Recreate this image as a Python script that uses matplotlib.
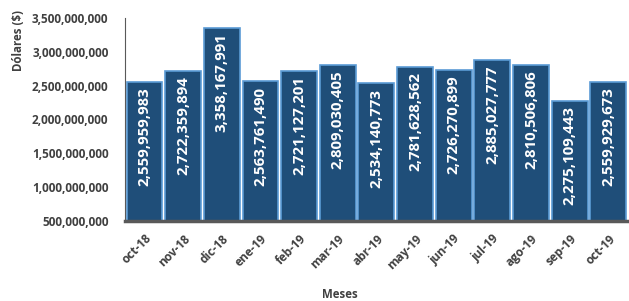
import matplotlib.pyplot as plt
from matplotlib.ticker import FuncFormatter

months = ['oct-18', 'nov-18', 'dic-18', 'ene-19', 'feb-19', 'mar-19', 'abr-19',
          'may-19', 'jun-19', 'jul-19', 'ago-19', 'sep-19', 'oct-19']
amounts = [2559959983, 2722359894, 3358167991, 2563761490, 2721127201, 2809030405,
           2534140773, 2781628562, 2726270899, 2885027777, 2810506806, 2275109443,
           2559929673]
y_ticks = [500000000, 1000000000, 1500000000, 2000000000, 2500000000,
           3000000000, 3500000000]

plt.rcParams['font.family'] = ['Open Sans', 'DejaVu Sans']
text_color = '#404040'

fig = plt.figure(figsize=(6.29, 3.01), dpi=100)
ax = fig.add_axes([0.199, 0.266, 0.799, 0.674])

x = range(len(months))
bars = ax.bar(x, amounts, width=0.93, color='#1F4E79', edgecolor='#5B9BD5',
              linewidth=1.2)

for xi, val in zip(x, amounts):
    ax.text(xi, val - 0.08e9, f'{val:,}', rotation=90, ha='center', va='top',
            color='white', fontsize=10.8, fontweight='bold')

ax.set_xlim(-0.5, len(months) - 0.5)
ax.set_ylim(y_ticks[0], y_ticks[-1])
ax.set_yticks(y_ticks)
ax.yaxis.set_major_formatter(FuncFormatter(lambda v, p: f'{int(v):,}'))
ax.set_xticks(list(x))
ax.set_xticklabels(months, rotation=45, ha='right', rotation_mode='anchor')

ax.tick_params(axis='y', length=0, pad=12, labelsize=8.5, labelcolor=text_color)
ax.tick_params(axis='x', length=0, pad=8, labelsize=8.6, labelcolor=text_color)
for lbl in ax.get_xticklabels() + ax.get_yticklabels():
    lbl.set_fontweight('bold')

for s in ['top', 'right']:
    ax.spines[s].set_visible(False)
ax.spines['left'].set_color('#595959')
ax.spines['left'].set_linewidth(0.8)
ax.spines['bottom'].set_color('#595959')
ax.spines['bottom'].set_linewidth(2.5)

fig.text(0.03, 0.865, 'Dólares ($)', rotation=90, ha='center', va='center',
         fontsize=8.3, fontweight='bold', color=text_color)
fig.text(0.54, 0.02, 'Meses', ha='center', va='center',
         fontsize=8.3, fontweight='bold', color=text_color)

fig.savefig('out.png', dpi=100)
